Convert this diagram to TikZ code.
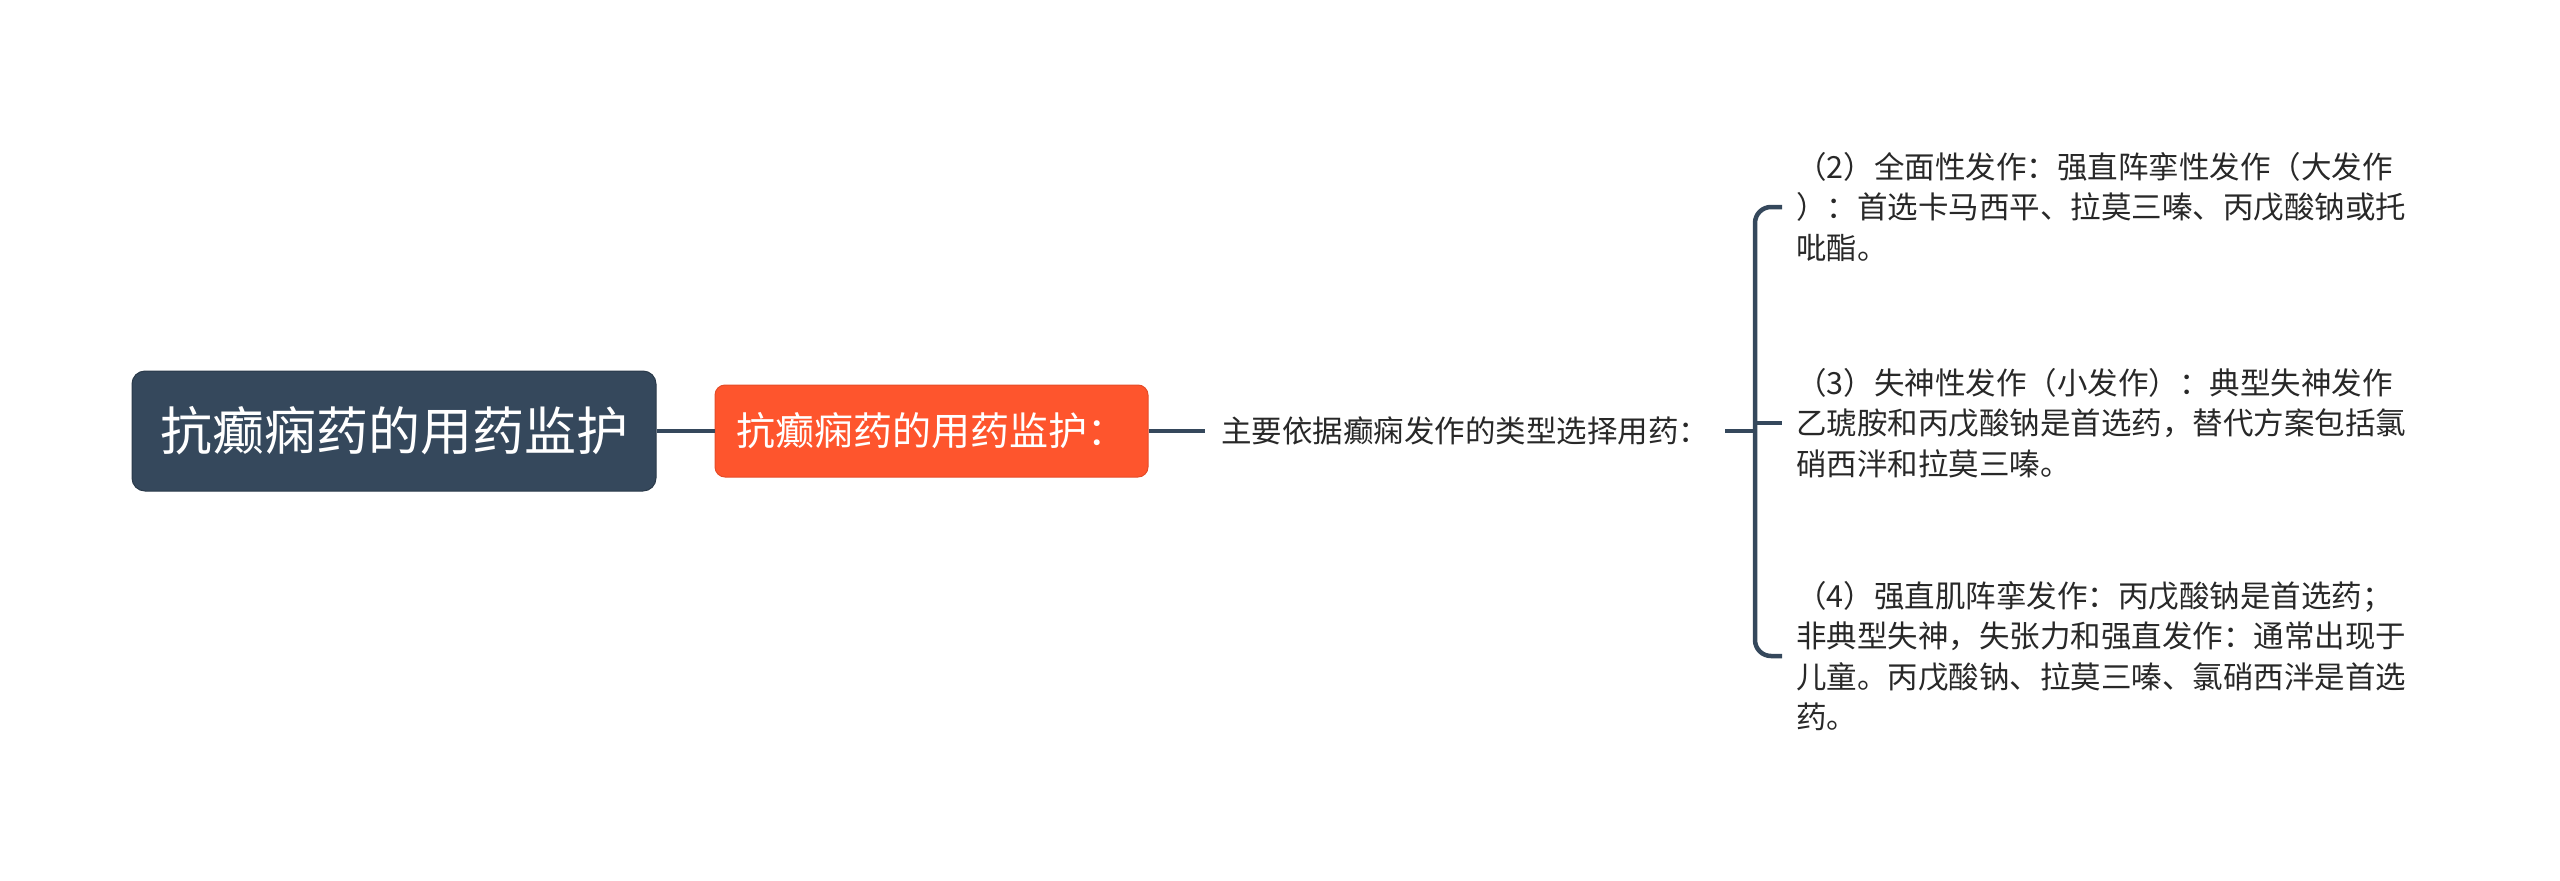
\documentclass[tikz,border=0pt]{standalone}
\usepackage{fontspec}
\setmainfont{Noto Sans CJK SC}
\definecolor{slate}{RGB}{53,72,92}
\definecolor{orangered}{RGB}{254,85,45}
\definecolor{txt}{RGB}{40,40,40}
\begin{document}
\begin{tikzpicture}[x=1pt,y=-1pt,
  conn/.style={draw=slate,line width=4.5pt},
  rootbox/.style={fill=slate,draw=slate!80!black,line width=1pt,rounded corners=13pt,text=white,minimum width=524pt,minimum height=120pt,inner sep=0pt,font=\fontsize{52}{60}\selectfont},
  subbox/.style={fill=orangered,draw=orangered!90!black,line width=1pt,rounded corners=10pt,text=white,minimum width=433pt,minimum height=92pt,inner sep=0pt,font=\fontsize{39}{46}\selectfont},
  midtext/.style={text=txt,inner xsep=16pt,inner ysep=0pt,font=\fontsize{30.5}{40.5}\selectfont},
  leaf/.style={text=txt,align=left,inner xsep=14pt,inner ysep=0pt,font=\fontsize{30.5}{40.5}\selectfont}
]
\useasboundingbox (0,0) rectangle (2560,881);
\node[rootbox] (root) at (394,431) {抗癫痫药的用药监护};
\node[subbox] (sub) at (931.5,431) {抗癫痫药的用药监护：};
\node[midtext,anchor=west] (mid) at (1205,431) {主要依据癫痫发作的类型选择用药：};
\coordinate (j) at (1755,431);
\node[leaf,anchor=west] (l2) at (1782,207) {（2）全面性发作：强直阵挛性发作（大发作\\）：首选卡马西平、拉莫三嗪、丙戊酸钠或托\\吡酯。};
\node[leaf,anchor=west] (l3) at (1782,423) {（3）失神性发作（小发作）：典型失神发作\\乙琥胺和丙戊酸钠是首选药，替代方案包括氯\\硝西泮和拉莫三嗪。};
\node[leaf,anchor=west] (l4) at (1782,656) {（4）强直肌阵挛发作：丙戊酸钠是首选药；\\非典型失神，失张力和强直发作：通常出现于\\儿童。丙戊酸钠、拉莫三嗪、氯硝西泮是首选\\药。};
\draw[conn] (root.east) -- (sub.west);
\draw[conn] (sub.east) -- (mid.west);
\draw[conn] (mid.east) -- (j);
\draw[conn,rounded corners=16pt] (l2.west) -| (j) |- (l4.west);
\draw[conn] (j |- l3.west) -- (l3.west);
\end{tikzpicture}
\end{document}
